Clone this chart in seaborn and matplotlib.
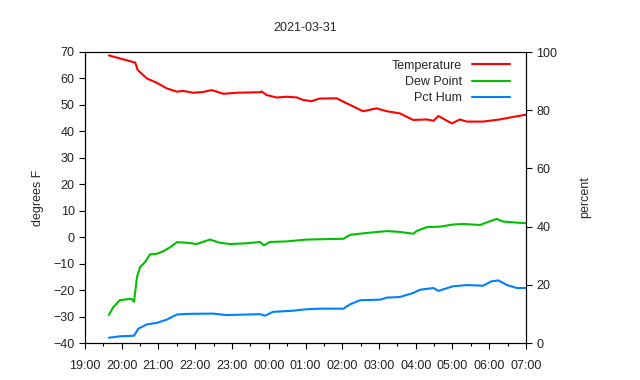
"""Overnight temperature / dew point / humidity log, gnuplot-looking."""

import numpy as np
import pandas as pd
import matplotlib
matplotlib.use("Agg")
import matplotlib.pyplot as plt
import matplotlib.dates as mdates
import seaborn as sns

# Readings (times HH:MM, evening of 2021-03-31 into the next morning)
temp_times = ["19:39", "20:22", "20:26", "20:41", "20:57", "21:13", "21:30", "21:40",
              "21:57", "22:13", "22:27", "22:46", "23:07", "23:46", "23:48", "23:57",
              "00:13", "00:29", "00:46", "00:56", "01:10", "01:23", "01:51", "02:02",
              "02:34", "02:56", "03:13", "03:34", "03:56", "04:18", "04:29", "04:37",
              "04:59", "05:12", "05:23", "05:50", "06:17", "06:40", "07:00"]
temp_vals = [68.7, 66.0, 63.2, 60.0, 58.4, 56.3, 55.0, 55.3,
             54.6, 54.9, 55.6, 54.2, 54.6, 54.8, 55.1, 53.7,
             52.8, 53.1, 52.8, 51.9, 51.4, 52.4, 52.5, 51.2,
             47.6, 48.7, 47.6, 46.8, 44.3, 44.5, 44.0, 45.8,
             43.0, 44.5, 43.7, 43.7, 44.5, 45.5, 46.3]

dew_times = ["19:39", "19:46", "19:57", "20:08", "20:16", "20:20", "20:25", "20:30",
             "20:38", "20:46", "20:57", "21:08", "21:19", "21:30", "21:46", "22:02",
             "22:24", "22:40", "22:57", "23:24", "23:46", "23:52", "00:02", "00:29",
             "01:02", "01:21", "02:02", "02:13", "02:40", "03:13", "03:34", "03:56",
             "04:02", "04:18", "04:40", "05:01", "05:18", "05:45", "05:56", "06:12",
             "06:23", "06:45", "07:00"]
dew_vals = [-29.4, -26.5, -23.8, -23.5, -23.3, -24.4, -15.0, -11.3,
            -9.4, -6.5, -6.3, -5.3, -3.8, -1.9, -2.1, -2.6,
            -0.9, -2.1, -2.6, -2.3, -1.8, -3.1, -1.8, -1.6,
            -0.9, -0.8, -0.6, 0.9, 1.6, 2.3, 2.0, 1.3,
            2.4, 3.8, 4.0, 4.8, 5.0, 4.6, 5.6, 6.9,
            5.9, 5.5, 5.3]

hum_times = ["19:39", "19:57", "20:20", "20:27", "20:41", "20:57", "21:13", "21:30",
             "21:46", "22:29", "22:51", "23:46", "23:54", "00:07", "00:40", "01:02",
             "01:23", "02:02", "02:13", "02:29", "03:02", "03:13", "03:34", "03:56",
             "04:07", "04:29", "04:37", "05:01", "05:23", "05:50", "06:04", "06:15",
             "06:29", "06:45", "07:00"]
hum_vals = [1.8, 2.3, 2.5, 4.9, 6.4, 6.9, 8.0, 9.8,
            10.0, 10.1, 9.6, 9.9, 9.4, 10.7, 11.1, 11.6,
            11.8, 11.8, 13.3, 14.7, 14.9, 15.6, 15.8, 17.2,
            18.3, 18.9, 17.9, 19.5, 19.9, 19.7, 21.2, 21.5,
            19.9, 18.9, 18.9]


def to_stamp(times):
    # hours before noon belong to the following day
    out = []
    for t in times:
        ts = pd.Timestamp(f"2021-03-31 {t}")
        if ts.hour < 12:
            ts = ts + pd.Timedelta(days=1)
        out.append(ts)
    return out


temp_df = pd.DataFrame({"time": to_stamp(temp_times), "value": temp_vals})
dew_df = pd.DataFrame({"time": to_stamp(dew_times), "value": dew_vals})
hum_df = pd.DataFrame({"time": to_stamp(hum_times), "value": hum_vals})

sns.set_style("ticks")
plt.rcParams["font.family"] = ["Liberation Sans", "DejaVu Sans"]
plt.rcParams["font.size"] = 9

fig = plt.figure(figsize=(6.4, 3.8), dpi=100)
ax = fig.add_axes([85 / 640, 1 - 343 / 380, (526 - 85) / 640, (343 - 52) / 380])
ax2 = ax.twinx()

sns.lineplot(data=temp_df, x="time", y="value", ax=ax, color="#ff0000",
             lw=1.5, label="Temperature")
sns.lineplot(data=dew_df, x="time", y="value", ax=ax, color="#00c000",
             lw=1.5, label="Dew Point")
sns.lineplot(data=hum_df, x="time", y="value", ax=ax2, color="#0080ff",
             lw=1.5, label="Pct Hum")

ax.set_xlim(pd.Timestamp("2021-03-31 19:00"), pd.Timestamp("2021-04-01 07:00"))
ax.set_ylim(-40, 70)
ax.set_yticks(np.arange(-40, 71, 10))
ax2.set_ylim(0, 100)
ax2.set_yticks(np.arange(0, 101, 20))

ax.xaxis.set_major_locator(mdates.HourLocator())
ax.xaxis.set_minor_locator(mdates.MinuteLocator(byminute=[30]))
ax.xaxis.set_major_formatter(mdates.DateFormatter("%H:%M"))

for a in (ax, ax2):
    a.tick_params(which="major", length=4, width=0.8, color="black",
                  labelsize=9, labelcolor="#222222")
    a.tick_params(which="minor", length=2, width=0.8, color="black")
    for s in a.spines.values():
        s.set_visible(True)
        s.set_color("black")
        s.set_linewidth(0.8)
ax.tick_params(axis="x", pad=8)

ax.set_xlabel("")
ax.set_ylabel("degrees F", fontsize=9, labelpad=7)
ax2.set_ylabel("percent", fontsize=9, labelpad=16)
ax.set_title("2021-03-31", fontsize=9, pad=15)

h1, l1 = ax.get_legend_handles_labels()
h2, l2 = ax2.get_legend_handles_labels()
if ax2.get_legend():
    ax2.get_legend().remove()
ax.legend(h1 + h2, l1 + l2, loc="upper right", frameon=False, markerfirst=False,
          fontsize=9, handlelength=3.0, labelspacing=0.35, borderaxespad=0.2,
          bbox_to_anchor=(0.98, 1.0))

fig.savefig("out.png", dpi=100)
